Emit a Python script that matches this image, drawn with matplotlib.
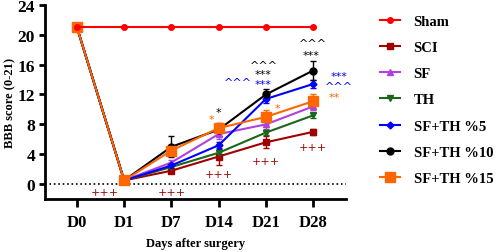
import numpy as np
import matplotlib.pyplot as plt
from matplotlib.lines import Line2D

# Data
days = ['D0', 'D1', 'D7', 'D14', 'D21', 'D28']
groups = ['Sham', 'SCI', 'SF', 'TH', 'SF+TH %5', 'SF+TH %10', 'SF+TH %15']

sham = [21, 21, 21, 21, 21, 21]
sci = [21, 0.5, 1.8, 3.7, 5.6, 7.0]
sf = [21, 0.5, 2.9, 6.7, 8.0, 10.4]
th = [21, 0.5, 2.3, 4.2, 6.9, 9.2]
sfth5 = [21, 0.5, 2.5, 5.2, 11.4, 13.4]
sfth10 = [21, 0.5, 5.0, 7.3, 12.0, 15.2]
sfth15 = [21, 0.5, 4.5, 7.5, 9.0, 11.1]

sham_err = [0, 0, 0, 0, 0, 0]
sci_err = [0, 0.2, 0.3, 1.2, 0.8, 0.4]
sf_err = [0, 0.2, 0.3, 0.6, 0.6, 0.5]
th_err = [0, 0.2, 0.3, 0.3, 0.3, 0.3]
sfth5_err = [0, 0.2, 0.3, 0.5, 0.6, 0.5]
sfth10_err = [0, 0.2, 1.4, 0.9, 0.8, 1.3]
sfth15_err = [0, 0.2, 0.3, 0.4, 0.9, 1.0]

# significance marks: (x, y, text, colour)
marks = [
    (0.6, -1.0, '+++', '#a00000'),
    (2.0, -1.0, '+++', '#a00000'),
    (3.0, 1.4, '+++', '#a00000'),
    (4.0, 3.1, '+++', '#a00000'),
    (5.0, 5.0, '+++', '#a00000'),
    (2.85, 8.7, '*', '#ff6600'),
    (3.0, 9.6, '*', 'black'),
    (3.4, 13.7, '^^^', '#0000ff'),
    (3.95, 15.9, '^^^', 'black'),
    (3.95, 14.7, '***', 'black'),
    (3.95, 13.4, '***', '#0000ff'),
    (4.25, 10.2, '*', '#ff6600'),
    (5.0, 18.9, '^^^', 'black'),
    (4.95, 17.3, '***', 'black'),
    (5.55, 14.5, '***', '#0000ff'),
    (5.55, 13.1, '^^^', '#0000ff'),
    (5.45, 11.6, '**', '#ff6600'),
]

plt.rcParams['font.family'] = ['Liberation Serif', 'DejaVu Serif']
plt.rcParams['font.weight'] = 'bold'

fig = plt.figure(figsize=(4.98, 2.53), dpi=100)
ax = fig.add_axes([0.090, 0.209, 0.605, 0.768])

x = np.arange(len(days))
styles = {
    'Sham': ('#ff0000', 'o', 4),
    'SCI': ('#a00000', 's', 4),
    'SF': ('#b040e0', '^', 5),
    'TH': ('#1a661a', 'v', 4),
    'SF+TH %5': ('#0000ff', 'D', 3.5),
    'SF+TH %10': ('black', 'o', 5),
    'SF+TH %15': ('#ff6600', 's', 6.5),
}
series = [
    ('SCI', sci, sci_err),
    ('SF', sf, sf_err),
    ('TH', th, th_err),
    ('SF+TH %5', sfth5, sfth5_err),
    ('SF+TH %10', sfth10, sfth10_err),
    ('SF+TH %15', sfth15, sfth15_err),
    ('Sham', sham, sham_err),
]
for name, vals, err in series:
    col, mk, ms = styles[name]
    ax.errorbar(x, vals, yerr=err, color=col, marker=mk, markersize=ms,
                lw=1.5, capsize=2.5, elinewidth=1, capthick=1)

ax.axhline(0, color='black', ls=':', lw=1.2)

for mx, my, txt, col in marks:
    ax.text(mx, my, txt, color=col, fontsize=8, ha='center', va='center',
            family='DejaVu Sans', fontweight='normal')

ax.set_xlim(-0.68, 5.7)
ax.set_ylim(-2, 24)
ax.set_xticks(x)
ax.set_xticklabels(days, fontsize=12, fontweight='bold')
ax.set_yticks(np.arange(0, 25, 4))
ax.set_yticklabels([str(v) for v in range(0, 25, 4)], fontsize=12.5, fontweight='bold')
ax.tick_params(axis='x', width=2, length=6, pad=4.5)
ax.tick_params(axis='y', width=2, length=4.5, pad=2.5)
for s in ['top', 'right']:
    ax.spines[s].set_visible(False)
for s in ['left', 'bottom']:
    ax.spines[s].set_linewidth(2)

ax.set_ylabel('BBB score (0-21)', fontsize=9, fontweight='bold')
ax.yaxis.set_label_coords(-0.095, 0.5)
ax.set_xlabel('Days after surgery', fontsize=9, fontweight='bold')
ax.xaxis.set_label_coords(0.50, -0.196)

handles = [Line2D([], [], color=styles[g][0], marker=styles[g][1],
                  markersize=styles[g][2], lw=1.5) for g in groups]
fig.legend(handles, groups, loc='upper left', bbox_to_anchor=(0.763, 0.938),
           frameon=False, borderpad=0, borderaxespad=0, labelspacing=0.89,
           handlelength=1.4, handletextpad=0.9,
           prop={'weight': 'bold', 'size': 10.5})

fig.savefig('out.png', dpi=100)
